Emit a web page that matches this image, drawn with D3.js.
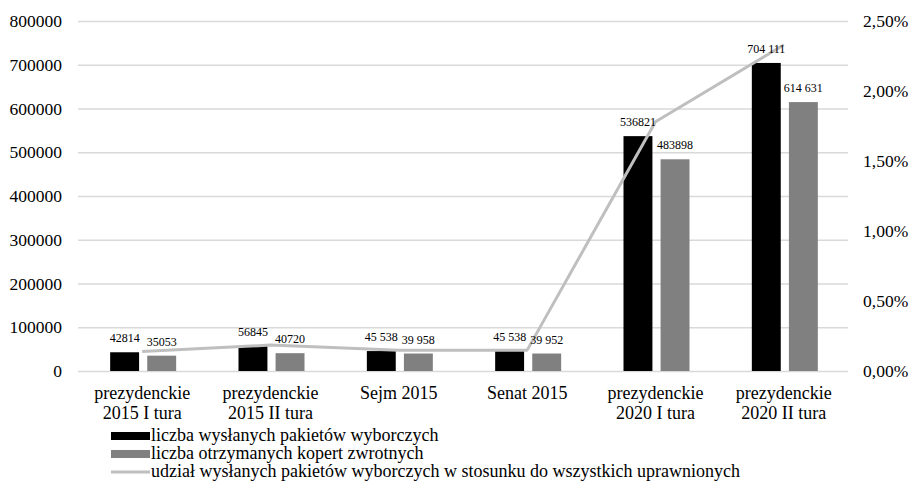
<!DOCTYPE html>
<html>
<head>
<meta charset="utf-8">
<style>
    body { margin: 0; background: #fff; }
    svg, svg text { font-family: "Times New Roman", "Liberation Serif", Tinos, Times, serif; }
    .grid .tick line { stroke: #d9d9d9; stroke-width: 1.3px; }
    .grid .domain, .yr .domain, .yr .tick line { display: none; }
    .grid .tick text, .yr .tick text { font-size: 17.5px; fill: #000; }
    .cat { font-size: 18px; fill: #000; }
    .lbl { font-size: 12px; fill: #000; }
    .leg { font-size: 18px; fill: #000; }
</style>
</head>
<body>
<svg width="913" height="484"></svg>
<script src="https://d3js.org/d3.v7.min.js"></script>
<script>
    let categories = [
        ["prezydenckie", "2015 I tura"],
        ["prezydenckie", "2015 II tura"],
        ["Sejm 2015"],
        ["Senat 2015"],
        ["prezydenckie", "2020 I tura"],
        ["prezydenckie", "2020 II tura"]
    ]
    let sent = [42814, 56845, 45538, 45538, 536821, 704111]
    let received = [35053, 40720, 39958, 39952, 483898, 614631]
    let sentLabels = ["42814", "56845", "45 538", "45 538", "536821", "704 111"]
    let receivedLabels = ["35053", "40720", "39 958", "39 952", "483898", "614 631"]
    let share = [0.0014, 0.00185, 0.00149, 0.00149, 0.0178, 0.0233]
    let leftTicks = [0, 100000, 200000, 300000, 400000, 500000, 600000, 700000, 800000]
    let rightTicks = [0, 0.005, 0.01, 0.015, 0.02, 0.025]
    let seriesNames = ["liczba wysłanych pakietów wyborczych", "liczba otrzymanych kopert zwrotnych",
        "udział wysłanych pakietów wyborczych w stosunku do wszystkich uprawnionych"]

    let margin = { top: 21, right: 65, bottom: 113, left: 78 }
    let width = 913, height = 484
    let svg = d3.select("svg")

    let idx = d3.range(categories.length)

    let x = d3.scaleBand()
        .domain(idx)
        .range([margin.left, width - margin.right])

    let x1 = d3.scaleBand()
        .domain(["sent", "received"])
        .range([x.bandwidth() / 2 - 32, x.bandwidth() / 2 + 34])
        .paddingInner(0.22)

    let y = d3.scaleLinear()
        .domain([0, 800000])
        .range([height - margin.bottom, margin.top])

    let yr = d3.scaleLinear()
        .domain([0, 0.025])
        .range([height - margin.bottom, margin.top])

    svg.append("g")
        .attr("class", "grid")
        .attr("transform", `translate(${margin.left},0)`)
        .call(d3.axisLeft(y)
            .tickValues(leftTicks)
            .tickSize(-(width - margin.left - margin.right))
            .tickPadding(16)
            .tickFormat(d3.format("d")))
        .attr("font-family", null)

    svg.append("g")
        .attr("class", "yr")
        .attr("transform", `translate(${width - margin.right},0)`)
        .call(d3.axisRight(yr)
            .tickValues(rightTicks)
            .tickSize(0)
            .tickPadding(15)
            .tickFormat(d => (d * 100).toFixed(2).replace(".", ",") + "%"))
        .attr("font-family", null)

    // bars
    let bars = svg.append("g")
    bars.selectAll(".sent")
        .data(idx)
        .join("rect")
        .attr("x", i => x(i) + x1("sent"))
        .attr("y", i => y(sent[i]))
        .attr("width", x1.bandwidth())
        .attr("height", i => y(0) - y(sent[i]))
        .style("fill", "#000")

    bars.selectAll(".received")
        .data(idx)
        .join("rect")
        .attr("x", i => x(i) + x1("received"))
        .attr("y", i => y(received[i]))
        .attr("width", x1.bandwidth())
        .attr("height", i => y(0) - y(received[i]))
        .style("fill", "#808080")

    // share line
    let line = d3.line()
        .x((d, i) => x(i) + x.bandwidth() / 2)
        .y(d => yr(d))

    svg.append("path")
        .attr("d", line(share))
        .style("fill", "none")
        .style("stroke", "#bfbfbf")
        .style("stroke-width", "3px")
        .style("stroke-linejoin", "round")

    // value labels
    svg.append("g").selectAll("text")
        .data(idx)
        .join("text")
        .attr("class", "lbl")
        .attr("x", i => x(i) + x1("sent") + x1.bandwidth() / 2)
        .attr("y", i => y(sent[i]) - 10)
        .attr("text-anchor", "middle")
        .text(i => sentLabels[i])

    svg.append("g").selectAll("text")
        .data(idx)
        .join("text")
        .attr("class", "lbl")
        .attr("x", i => x(i) + x1("received") + x1.bandwidth() / 2)
        .attr("y", i => y(received[i]) - 10)
        .attr("text-anchor", "middle")
        .text(i => receivedLabels[i])

    // category labels
    let cats = svg.append("g").selectAll("text")
        .data(idx)
        .join("text")
        .attr("class", "cat")
        .attr("text-anchor", "middle")
        .attr("transform", i => `translate(${x(i) + x.bandwidth() / 2},${y(0) + 28})`)
    cats.selectAll("tspan")
        .data(i => categories[i])
        .join("tspan")
        .attr("x", 0)
        .attr("dy", (d, j) => j == 0 ? 0 : 20)
        .text(d => d)

    // legend
    let legend = svg.append("g")
        .attr("transform", "translate(111,436)")
    let legendColors = ["#000", "#808080", "#bfbfbf"]
    seriesNames.forEach(function (name, i) {
        let g = legend.append("g").attr("transform", `translate(0,${i * 18})`)
        if (i < 2) {
            g.append("rect")
                .attr("x", 0).attr("y", -4)
                .attr("width", 39).attr("height", 8)
                .style("fill", legendColors[i])
        } else {
            g.append("line")
                .attr("x1", 0).attr("x2", 39)
                .attr("y1", 0).attr("y2", 0)
                .style("stroke", legendColors[i])
                .style("stroke-width", "3px")
        }
        g.append("text")
            .attr("class", "leg")
            .attr("x", 40)
            .attr("y", 5)
            .text(name)
    })
</script>
</body>
</html>
